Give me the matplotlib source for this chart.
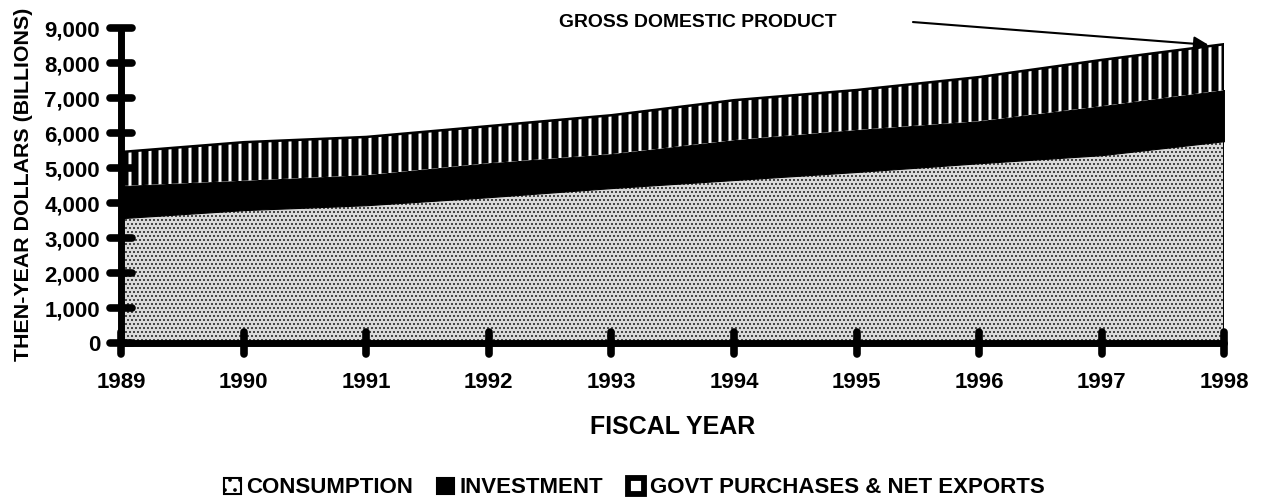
import matplotlib
matplotlib.use('Agg')
import matplotlib.pyplot as plt
from matplotlib.markers import MarkerStyle
from matplotlib.patches import Patch
import numpy as np

plt.rcParams['font.family'] = ['Liberation Sans', 'DejaVu Sans']
plt.rcParams['font.weight'] = 'bold'

years = [1989, 1990, 1991, 1992, 1993, 1994, 1995, 1996, 1997, 1998]
consumption = [3570, 3800, 3940, 4170, 4430, 4660, 4890, 5140, 5370, 5770]
investment = [920, 840, 860, 970, 970, 1140, 1200, 1200, 1400, 1460]
govt_net_exports = [970, 1100, 1090, 1060, 1110, 1140, 1140, 1260, 1320, 1310]
labels = ['CONSUMPTION', 'INVESTMENT', 'GOVT PURCHASES & NET EXPORTS']

cons = np.array(consumption)
inv_top = cons + np.array(investment)
gdp = inv_top + np.array(govt_net_exports)

# dpi 120 so the hatch spacing matches the original; sizes below are
# tuned at 100 dpi and scaled with K
DPI = 120
K = 100 / DPI

fig = plt.figure(figsize=(1261 / DPI, 501 / DPI), dpi=DPI)
ax = fig.add_axes([0.096, 0.315, 0.875, 0.629])

c_area = ax.fill_between(years, 0, cons, facecolor='#dadada', edgecolor='#2a2a2a',
                         hatch='.....', linewidth=0)
c_area.set_hatch_linewidth(0.9 * K)
ax.fill_between(years, cons, inv_top, facecolor='black', edgecolor='black',
                linewidth=0.8 * K)
g_area = ax.fill_between(years, inv_top, gdp, facecolor='white', edgecolor='black',
                         hatch='||', linewidth=0)
g_area.set_hatch_linewidth(4.2)
ax.plot(years, gdp, color='black', linewidth=1.8 * K)
ax.plot([years[-1], years[-1]], [0, gdp[-1]], color='black', linewidth=1.4 * K)

ax.set_xlim(years[0], years[-1])
ax.set_ylim(0, 9000)
ax.set_xticks(years)
ax.set_yticks(np.arange(0, 9001, 1000))
ax.yaxis.set_major_formatter(matplotlib.ticker.FuncFormatter(lambda v, p: f'{int(v):,}'))

for s in ['top', 'right']:
    ax.spines[s].set_visible(False)
for s in ['left', 'bottom']:
    ax.spines[s].set_linewidth(5 * K)
    ax.spines[s].set_capstyle('round')
    ax.spines[s].set_zorder(5)

ax.tick_params(direction='inout', length=16 * K, width=5 * K, labelsize=16 * K)
ax.tick_params(axis='y', pad=7 * K)
ax.tick_params(axis='x', pad=13 * K)
# rounded tick marks centred on the axis lines
for t in ax.yaxis.get_major_ticks():
    t.tick1line.set_marker(MarkerStyle('_', capstyle='round'))
for t in ax.xaxis.get_major_ticks():
    t.tick1line.set_marker(MarkerStyle('|', capstyle='round'))
for t in ax.xaxis.get_major_ticks() + ax.yaxis.get_major_ticks():
    t.tick1line.set_markersize(16 * K)
    t.tick1line.set_markeredgewidth(5.5 * K)
    t.tick1line.set_zorder(6)
for lab in ax.get_xticklabels() + ax.get_yticklabels():
    lab.set_fontweight('bold')

ax.set_xlabel('FISCAL YEAR', fontsize=18 * K, fontweight='bold', labelpad=15.5 * K)
ax.set_ylabel('THEN-YEAR DOLLARS (BILLIONS)', fontsize=15.4 * K, fontweight='bold')
ax.yaxis.set_label_coords(-0.0797, 0.505)

fig.text(0.5535, 0.956, 'GROSS DOMESTIC PRODUCT', ha='center', va='center',
         fontsize=14 * K, fontweight='bold')
ax.annotate('', xy=(1997.87, gdp[-1] - 20), xycoords='data',
            xytext=(0.724, 0.956), textcoords='figure fraction',
            arrowprops=dict(arrowstyle='-|>', color='black', lw=1.5 * K,
                            mutation_scale=22 * K, shrinkA=0, shrinkB=0))

handles = [
    Patch(facecolor='white', edgecolor='black', hatch='..', linewidth=1.5 * K, label=labels[0]),
    Patch(facecolor='black', edgecolor='black', linewidth=1.5 * K, label=labels[1]),
    Patch(facecolor='white', edgecolor='black', linewidth=4.2 * K, label=labels[2]),
]
handles[0].set_hatch_linewidth(1.2 * K)

fig.legend(handles=handles, loc='center', bbox_to_anchor=(0.503, 0.026), ncol=3,
           frameon=False, handlelength=0.75, handleheight=0.75, handletextpad=0.25,
           columnspacing=1.1, borderpad=0, prop={'weight': 'bold', 'size': 16 * K})

fig.savefig('out.png', dpi=DPI, facecolor='white')
